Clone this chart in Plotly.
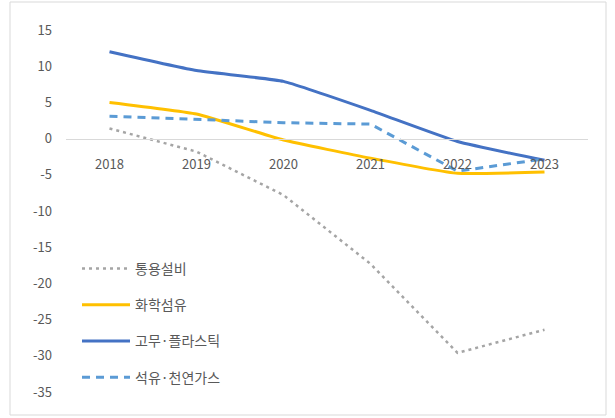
import plotly.graph_objects as go

years = ["2018", "2019", "2020", "2021", "2022", "2023"]
general_equipment = [1.4, -1.8, -7.8, -17.3, -29.6, -26.4]   # 통용설비
chem_fiber = [5.0, 3.4, -0.2, -2.7, -4.8, -4.6]              # 화학섬유
rubber_plastic = [12.0, 9.4, 7.9, 3.9, -0.4, -3.0]           # 고무·플라스틱
oil_gas = [3.1, 2.6, 2.2, 2.0, -4.5, -2.8]                    # 석유·천연가스
y_ticks = [15, 10, 5, 0, -5, -10, -15, -20, -25, -30, -35]

names = ["통용설비", "화학섬유", "고무·플라스틱", "석유·천연가스"]
series = [general_equipment, chem_fiber, rubber_plastic, oil_gas]
colors = ["#A5A5A5", "#FFC000", "#4472C4", "#5B9BD5"]
dashes = ["3px,4px", "solid", "solid", "8px,6px"]
widths = [2.5, 3, 3, 3]
shapes_ = ["linear", "spline", "spline", "linear"]

fig = go.Figure()
for i, (nm, vals) in enumerate(zip(names, series)):
    fig.add_trace(go.Scatter(
        x=years, y=vals, mode="lines", name=nm,
        legendgroup=nm,
        line=dict(color=colors[i], width=widths[i], dash=dashes[i],
                  shape=shapes_[i], smoothing=0.4 if shapes_[i] == "spline" else None),
    ))

W, H = 615, 418
ml, mr, mt, mb = 66, 27, 30, 26
pw = W - ml - mr
ph = H - mt - mb
ymin, ymax = -35, 15
zero_pos = (0 - ymin) / (ymax - ymin)

def px_x(x):
    return (x - ml) / pw

def px_y(y):
    return (H - mb - y) / ph

font_family = "Noto Sans CJK KR, Noto Sans, sans-serif"

fig.update_layout(
    width=W, height=H,
    margin=dict(l=ml, r=mr, t=mt, b=mb, pad=0),
    paper_bgcolor="white", plot_bgcolor="white",
    font=dict(family=font_family, color="#595959", size=13),
    showlegend=True,
    legend=dict(
        x=px_x(77), y=px_y(253), xanchor="left", yanchor="top",
        bgcolor="rgba(0,0,0,0)",
        font=dict(size=14, color="#595959", family=font_family),
        itemwidth=48,
        traceorder="grouped",
        tracegroupgap=15,
    ),
    xaxis=dict(
        type="category",
        range=[-0.5, 5.5],
        anchor="free", position=zero_pos,
        showline=True, linecolor="#D9D9D9", linewidth=1,
        showgrid=False, zeroline=False,
        ticks="", ticklabelstandoff=14,
        tickfont=dict(size=13, color="#595959"),
    ),
    yaxis=dict(
        range=[ymin, ymax],
        tickvals=y_ticks,
        ticktext=[str(v) for v in y_ticks],
        showgrid=False, zeroline=False, showline=False,
        ticks="", ticklabelstandoff=13,
        tickfont=dict(size=13, color="#595959"),
    ),
    shapes=[dict(
        type="rect", xref="paper", yref="paper",
        x0=px_x(10), x1=px_x(606), y0=px_y(415), y1=px_y(2),
        line=dict(color="#D9D9D9", width=1), fillcolor="rgba(0,0,0,0)",
        layer="below",
    )],
)

fig.write_html("out.html")
